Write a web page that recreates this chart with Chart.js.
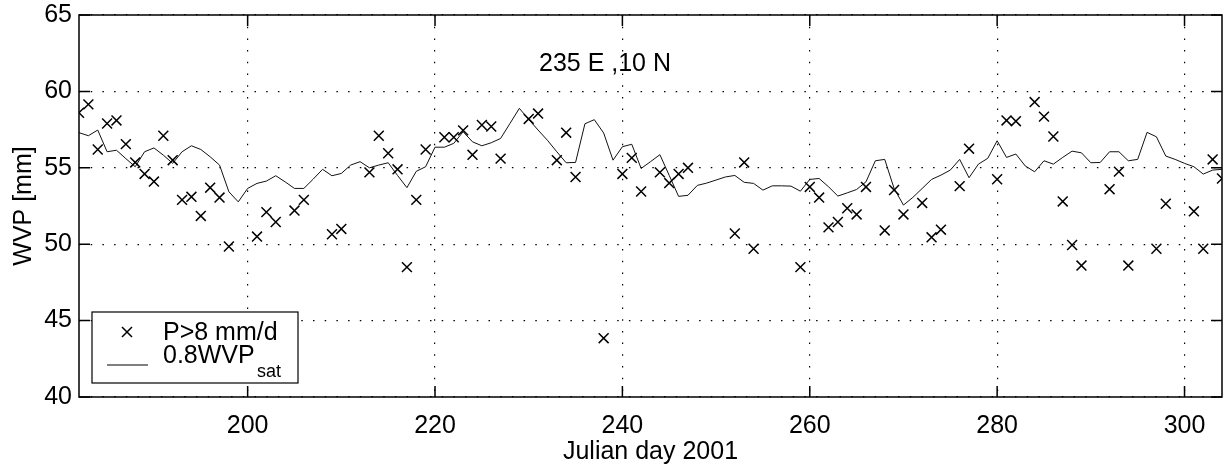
<!DOCTYPE html>
<html>
<head>
<meta charset="utf-8">
<script src="https://cdn.jsdelivr.net/npm/chart.js@4.4.1/dist/chart.umd.min.js"></script>
<style>
  html, body { margin: 0; padding: 0; background: #fff; overflow: hidden; }
  #wrap { width: 1223px; height: 467px; }
</style>
</head>
<body>
<div id="wrap"><canvas id="chart"></canvas></div>
<script>
// Precipitation days (P > 8 mm/d): Julian day and WVP [mm]
const rainDays = [182, 183, 184, 185, 186, 187, 188, 189, 190, 191, 192, 193, 194, 195, 196, 197, 198,
    201, 202, 203, 205, 206, 209, 210, 213, 214, 215, 216, 217, 218, 219, 221, 222, 223, 224, 225, 226, 227,
    230, 231, 233, 234, 235, 238, 240, 241, 242, 244, 245, 246, 247, 252, 253, 254, 259, 260, 261, 262, 263,
    264, 265, 266, 268, 269, 270, 272, 273, 274, 276, 277, 280, 281, 282, 284, 285, 286, 287, 288, 289, 292,
    293, 294, 297, 298, 301, 302, 303, 304];
const rainWvp = [58.6, 59.15, 56.2, 57.9, 58.1, 56.55, 55.35, 54.6, 54.1, 57.1, 55.5, 52.9, 53.1, 51.85, 53.7, 53.05, 49.85,
    50.5, 52.1, 51.45, 52.2, 52.9, 50.65, 51.0, 54.7, 57.1, 55.95, 54.9, 48.5, 52.9, 56.2, 57.0, 57.0, 57.45, 55.85, 57.8, 57.7, 55.6,
    58.2, 58.55, 55.5, 57.3, 54.4, 43.85, 54.6, 55.65, 53.45, 54.7, 54.0, 54.6, 55.0, 50.7, 55.35, 49.7, 48.5, 53.75, 53.05, 51.1, 51.45,
    52.35, 51.95, 53.75, 50.9, 53.55, 51.95, 52.7, 50.45, 50.95, 53.8, 56.25, 54.25, 58.1, 58.05, 59.3, 58.35, 57.05, 52.8, 49.95, 48.6, 53.6,
    54.75, 48.6, 49.7, 52.65, 52.15, 49.7, 55.55, 54.3];

// 0.8 * saturation WVP, daily
const satDays = [182, 183, 184, 185, 186, 187, 188, 189, 190, 191, 192, 193, 194, 195, 196, 197, 198, 199, 200,
    201, 202, 203, 204, 205, 206, 207, 208, 209, 210, 211, 212, 213, 214, 215, 216, 217, 218, 219, 220,
    221, 222, 223, 224, 225, 226, 227, 228, 229, 230, 231, 232, 233, 234, 235, 236, 237, 238, 239, 240,
    241, 242, 243, 244, 245, 246, 247, 248, 249, 250, 251, 252, 253, 254, 255, 256, 257, 258, 259, 260,
    261, 262, 263, 264, 265, 266, 267, 268, 269, 270, 271, 272, 273, 274, 275, 276, 277, 278, 279, 280,
    281, 282, 283, 284, 285, 286, 287, 288, 289, 290, 291, 292, 293, 294, 295, 296, 297, 298, 299, 300,
    301, 302, 303, 304];
const satWvp = [57.3, 57.1, 57.47, 56.05, 56.15, 55.6, 55.07, 56.05, 56.3, 55.83, 55.29, 56.05, 56.44, 56.2, 55.72, 55.18, 53.43, 52.77, 53.65,
    53.98, 54.13, 54.48, 54.08, 53.65, 53.65, 54.26, 54.9, 54.48, 54.63, 55.18, 55.4, 55.0, 55.18, 55.33, 54.5, 53.7, 54.77, 55.07, 56.35,
    56.35, 56.6, 57.36, 56.7, 56.44, 56.64, 56.92, 57.9, 58.89, 58.17, 57.47, 56.8, 56.05, 55.33, 55.35, 57.88, 58.15, 57.28, 55.5, 56.38,
    56.54, 54.96, 55.4, 55.86, 54.5, 53.13, 53.2, 53.85, 54.0, 54.2, 54.4, 54.5, 54.05, 53.98, 53.54, 53.82, 53.82, 53.8, 53.47, 54.24,
    54.3, 53.76, 53.15, 53.36, 53.58, 54.08, 55.46, 55.55, 53.65, 52.56, 53.06, 53.65, 54.24, 54.52, 54.85, 55.55, 54.35, 55.24, 55.62, 56.77,
    55.68, 55.9, 55.12, 54.74, 55.46, 55.24, 55.68, 56.09, 55.98, 55.33, 55.35, 56.05, 56.05, 55.46, 55.55, 57.32, 57.03, 55.77, 55.55, 55.29,
    55.07, 54.59, 54.85, 54.9];

const xTicks = [200, 220, 240, 260, 280, 300];
const yTicks = [40, 45, 50, 55, 60, 65];

const FONT = '"Liberation Sans", Arial, Helvetica, sans-serif';

// Box around the plot, inward tick marks, title and legend
const framePlugin = {
    id: 'frame',
    afterDraw(chart) {
        const { ctx, chartArea: a, scales: { x, y } } = chart;
        const tl = 11;
        ctx.save();
        ctx.strokeStyle = '#000';
        ctx.lineWidth = 1.5;
        ctx.strokeRect(a.left, a.top, a.right - a.left, a.bottom - a.top);
        ctx.beginPath();
        xTicks.forEach(v => {
            const px = x.getPixelForValue(v);
            ctx.moveTo(px, a.bottom); ctx.lineTo(px, a.bottom - tl);
            ctx.moveTo(px, a.top); ctx.lineTo(px, a.top + tl);
        });
        yTicks.forEach(v => {
            const py = y.getPixelForValue(v);
            ctx.moveTo(a.left, py); ctx.lineTo(a.left + tl, py);
            ctx.moveTo(a.right, py); ctx.lineTo(a.right - tl, py);
        });
        ctx.stroke();

        // title inside the plot
        ctx.fillStyle = '#000';
        ctx.font = '25px ' + FONT;
        ctx.textAlign = 'center';
        ctx.textBaseline = 'alphabetic';
        ctx.fillText('235 E ,10 N', 605, 71);

        // legend
        const bx = 92, by = 312, bw = 206, bh = 71;
        ctx.fillStyle = '#fff';
        ctx.fillRect(bx, by, bw, bh);
        ctx.lineWidth = 1.2;
        ctx.strokeRect(bx, by, bw, bh);
        const mx = 127, my = 332, r = 5;
        ctx.lineWidth = 1.5;
        ctx.beginPath();
        ctx.moveTo(mx - r, my - r); ctx.lineTo(mx + r, my + r);
        ctx.moveTo(mx - r, my + r); ctx.lineTo(mx + r, my - r);
        ctx.stroke();
        ctx.lineWidth = 1;
        ctx.beginPath();
        ctx.moveTo(107, 365); ctx.lineTo(148, 365);
        ctx.stroke();
        ctx.fillStyle = '#000';
        ctx.textAlign = 'left';
        ctx.font = '25px ' + FONT;
        ctx.fillText('P>8 mm/d', 163, 340);
        ctx.fillText('0.8WVP', 163, 363);
        ctx.font = '18px ' + FONT;
        ctx.fillText('sat', 257, 377);
        ctx.restore();
    }
};

const gridStyle = {
    color: '#000',
    lineWidth: 1.2,
    drawTicks: false
};
const dotted = { display: false, dash: [1.5, 10.2] };

new Chart(document.getElementById('chart'), {
    type: 'scatter',
    data: {
        datasets: [
            {
                label: 'P>8 mm/d',
                data: rainDays.map((d, i) => ({ x: d, y: rainWvp[i] })),
                pointStyle: 'crossRot',
                pointRadius: 7,
                borderColor: '#000',
                borderWidth: 1.5,
                showLine: false
            },
            {
                label: '0.8WVPsat',
                data: satDays.map((d, i) => ({ x: d, y: satWvp[i] })),
                showLine: true,
                borderColor: '#111',
                borderWidth: 1,
                pointRadius: 0,
                tension: 0
            }
        ]
    },
    options: {
        responsive: true,
        maintainAspectRatio: false,
        animation: false,
        layout: { autoPadding: false, padding: { top: 15, right: 1, left: 0, bottom: 0 } },
        plugins: {
            legend: { display: false },
            tooltip: { enabled: false }
        },
        scales: {
            x: {
                type: 'linear',
                min: 182,
                max: 304,
                afterBuildTicks: s => { s.ticks = xTicks.map(v => ({ value: v })); },
                afterFit: s => { s.height = 70; s.paddingLeft = 0; s.paddingRight = 0; },
                grid: gridStyle,
                border: dotted,
                ticks: { color: '#000', padding: 14, font: { family: FONT, size: 25 } },
                title: {
                    display: true,
                    text: 'Julian day 2001',
                    color: '#000',
                    padding: { top: 0, bottom: 0 },
                    font: { family: FONT, size: 25 }
                }
            },
            y: {
                min: 40,
                max: 65,
                afterBuildTicks: s => { s.ticks = yTicks.map(v => ({ value: v })); },
                afterFit: s => { s.width = 79; s.paddingTop = 0; s.paddingBottom = 0; },
                grid: gridStyle,
                border: dotted,
                ticks: { color: '#000', padding: 7, font: { family: FONT, size: 25 } },
                title: {
                    display: true,
                    text: 'WVP [mm]',
                    color: '#000',
                    padding: { top: 9, bottom: 0 },
                    font: { family: FONT, size: 25 }
                }
            }
        }
    },
    plugins: [framePlugin]
});
</script>
</body>
</html>
